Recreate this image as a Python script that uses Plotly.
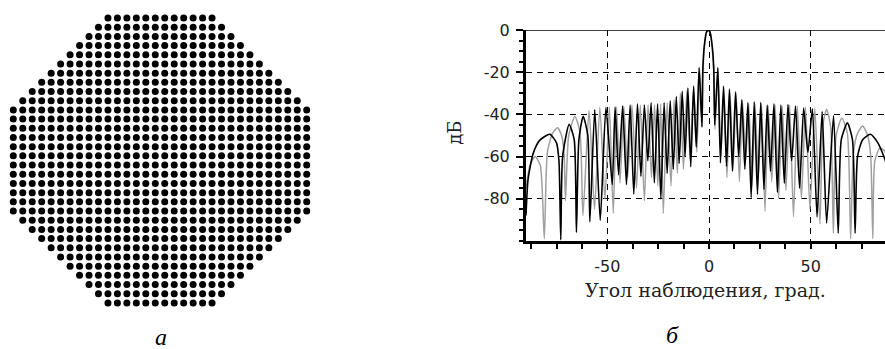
import plotly.graph_objects as go

W, H = 885, 349

# ---------------- panel "а": octagonal array (dots per row, top to bottom)
row_counts = [12, 14, 16, 18, 20, 22, 24, 26, 28, 30] + [32] * 12 + [30, 28, 26, 24, 22, 20, 18, 16, 14, 12]
grid_size = 32

# ---------------- panel "б": radiation pattern (angle, deg ; level, dB)
black_deg = [-90.0, -89.0, -86.5, -83.3, -78.3, -75.0, -73.8, -72.9,
             -72.0, -68.8, -66.3, -65.2,
             -64.0, -61.9, -59.6, -58.6,
             -56.2, -53.5, -50.7, -47.6, -46.2, -44.5, -42.5, -40.6,
             -38.8, -37.0, -35.2, -33.5, -31.8, -30.1, -28.5, -26.9,
             -25.3, -23.7, -22.1, -20.6, -19.1, -17.6, -16.1, -14.7,
             -13.2, -11.8, -10.4, -9.0, -7.6, -6.3, -4.9, -3.5,
             -3.1, -2.4, -1.3, -0.4, 0.5, 1.6, 2.3, 2.8,
             4.3, 5.6, 7.1, 8.6, 10.0, 11.5, 13.0, 14.6,
             16.1, 17.6, 19.1, 20.7, 22.2, 23.8, 25.4, 27.0,
             28.6, 30.2, 31.9, 33.6, 35.3, 37.0, 38.8, 40.6,
             42.5, 44.5, 46.5, 48.6, 50.8, 53.1, 55.6, 57.8,
             61.2, 63.5, 65.0, 68.0, 70.5, 71.8,
             73.0, 75.5, 79.3, 83.0, 86.6, 88.5, 90.0]
black_db = [-88.0, -71.0, -58.6, -52.3, -49.4, -53.5, -62.0, -99.5,
            -60.0, -44.7, -52.0, -96.0,
            -52.0, -40.9, -50.0, -91.0,
            -37.8, -90.3, -36.7, -73.3, -36.5, -68.7, -36.0, -73.3,
            -35.5, -77.9, -35.0, -69.4, -35.5, -62.0, -34.5, -72.5,
            -35.0, -80.2, -34.5, -68.0, -33.5, -66.0, -31.5, -63.3,
            -29.0, -60.0, -27.5, -64.8, -26.5, -55.5, -17.7, -46.0,
            -20.0, -8.0, -1.0, 0.0, -1.0, -8.0, -18.0, -45.0,
            -17.7, -63.0, -26.5, -64.6, -28.0, -67.0, -29.3, -60.0,
            -33.0, -66.0, -34.4, -79.5, -34.0, -78.0, -34.3, -75.6,
            -35.5, -67.0, -35.0, -77.0, -35.5, -72.7, -35.3, -62.0,
            -36.0, -75.0, -37.0, -58.0, -37.3, -88.6, -38.6, -91.6,
            -40.6, -96.4, -52.0, -44.0, -52.0, -96.4,
            -60.0, -52.0, -49.4, -53.5, -61.7, -70.0, -85.0]

gray_deg = [-90.0, -88.0, -85.5, -83.0, -81.0,
            -79.5, -77.0, -74.5, -72.5, -71.3, -70.6,
            -69.0, -66.0, -63.5, -62.0,
            -59.0, -56.3, -53.7, -51.2, -49.0, -47.1, -45.5, -43.8,
            -41.9, -40.0, -37.9, -35.7, -33.8, -31.8, -30.0, -28.3,
            -26.8, -25.2, -23.8, -22.5, -20.6, -18.7, -17.2, -15.6,
            -14.1, -12.6, -10.9, -9.2, -7.6, -6.0, -4.6, -3.4,
            -3.0, -2.3, -1.2, -0.4, 0.5, 1.5, 2.2, 2.9,
            4.4, 5.8, 7.3, 8.8, 10.3, 11.8, 13.3, 14.9,
            16.4, 18.0, 19.5, 21.1, 22.6, 24.2, 25.8, 27.5,
            29.1, 30.8, 32.5, 34.2, 36.0, 37.8, 39.6, 41.5,
            43.4, 45.4, 47.4, 49.6, 52.0, 54.5,
            56.0, 57.8, 59.8, 61.1,
            62.5, 65.3, 68.0, 69.6,
            71.0, 73.0, 75.5, 78.0, 79.5, 80.5,
            81.5, 84.0, 86.0, 88.0, 90.0]
gray_db = [-75.0, -64.0, -60.0, -64.0, -99.0,
           -58.0, -49.0, -46.3, -50.0, -58.0, -81.0,
           -50.0, -41.0, -48.0, -88.0,
           -38.0, -85.0, -36.5, -80.0, -36.5, -87.0, -36.5, -72.5,
           -36.0, -70.0, -35.5, -75.0, -35.5, -81.0, -35.5, -70.0,
           -35.5, -74.0, -35.0, -87.0, -34.5, -74.0, -33.0, -68.0,
           -30.0, -66.0, -28.5, -62.0, -27.5, -58.0, -18.5, -46.0,
           -20.0, -8.0, -1.0, 0.0, -1.0, -8.0, -18.0, -47.0,
           -18.5, -60.0, -27.5, -70.0, -29.0, -66.0, -30.0, -72.0,
           -33.5, -62.0, -35.0, -74.0, -35.0, -70.0, -35.0, -86.0,
           -36.0, -72.0, -35.5, -80.0, -36.0, -76.0, -35.5, -88.6,
           -36.0, -80.0, -36.5, -85.0, -37.0, -92.0,
           -45.0, -37.5, -46.0, -96.4,
           -50.0, -41.7, -49.0, -99.0,
           -58.0, -49.0, -45.5, -50.0, -60.0, -99.0,
           -62.0, -56.0, -57.0, -62.0, -75.0]

y_ticks = [0, -20, -40, -60, -80]
y_tick_text = ["0", "-20", "-40", "-60", "-80"]
x_ticks = [-50, 0, 50]
x_tick_text = ["-50", "0", "50"]

# dot positions built from the row counts
dot_x, dot_y = [], []
for r, c in enumerate(row_counts):
    start = (grid_size - c) // 2
    for j in range(c):
        dot_x.append(start + j)
        dot_y.append(r)

fig = go.Figure()
fig.add_trace(go.Scatter(x=dot_x, y=dot_y, mode="markers",
                         marker=dict(size=7, color="black", line=dict(width=0)),
                         xaxis="x", yaxis="y", hoverinfo="skip", showlegend=False))
fig.add_trace(go.Scatter(x=gray_deg, y=gray_db, mode="lines",
                         line=dict(color="#a0a0a0", width=1.5, shape="spline", smoothing=0.6),
                         xaxis="x2", yaxis="y2", hoverinfo="skip", showlegend=False))
fig.add_trace(go.Scatter(x=black_deg, y=black_db, mode="lines",
                         line=dict(color="black", width=1.6, shape="spline", smoothing=0.6),
                         xaxis="x2", yaxis="y2", hoverinfo="skip", showlegend=False))

tick_font = dict(family="DejaVu Sans", size=16, color="#222")
serif = "DejaVu Serif"

fig.update_layout(
    width=W, height=H,
    margin=dict(l=0, r=0, t=0, b=0),
    paper_bgcolor="white", plot_bgcolor="white",
    showlegend=False,
    xaxis=dict(domain=[0, 320 / W], range=[-1.405, 32.404], visible=False, fixedrange=True),
    yaxis=dict(domain=[0, 1], range=[36.02, -0.986], visible=False, fixedrange=True),
    xaxis2=dict(domain=[526 / W, 1], range=[-90, 86.5], anchor="y2",
                showline=True, linewidth=3, linecolor="black", mirror=False,
                zeroline=False,
                tickmode="array", tickvals=x_ticks, ticktext=x_tick_text,
                ticks="outside", ticklen=5,
                tickwidth=1.5, tickcolor="black", tickfont=tick_font,
                ticklabelstandoff=4,
                showgrid=True, gridcolor="black", gridwidth=1, griddash="6px,5px",
                minor=dict(tickmode="linear", tick0=0, dtick=12.5, ticks="outside",
                           ticklen=5, tickwidth=1.5, tickcolor="black", showgrid=False)),
    yaxis2=dict(domain=[1 - 238 / H, 1 - 21.7 / H], range=[-100, 0], anchor="x2",
                showline=True, linewidth=3, linecolor="black", mirror=False,
                zeroline=False,
                tickmode="array", tickvals=y_ticks, ticktext=y_tick_text,
                ticks="outside", ticklen=7,
                tickwidth=1.5, tickcolor="black", tickfont=tick_font,
                ticklabelstandoff=3,
                showgrid=True, gridcolor="black", gridwidth=1, griddash="6px,5px",
                minor=dict(tickmode="linear", tick0=0, dtick=5, ticks="outside",
                           ticklen=4, tickwidth=1.5, tickcolor="black", showgrid=False)),
    shapes=[dict(type="line", xref="x2 domain", yref="y2", x0=0, x1=1, y0=0, y1=0,
                 line=dict(color="black", width=1.5), layer="above")],
    annotations=[
        dict(text="дБ", x=455 / W, y=1 - 127 / H, xref="paper", yref="paper",
             textangle=-90, showarrow=False, xanchor="center", yanchor="middle",
             font=dict(family=serif, size=18, color="#222")),
        dict(text="Угол наблюдения, град.", x=705 / W, y=1 - 288 / H, xref="paper", yref="paper",
             showarrow=False, xanchor="center", yanchor="middle",
             font=dict(family=serif, size=19, color="#222")),
        dict(text="<i>а</i>", x=161 / W, y=1 - 337 / H, xref="paper", yref="paper",
             showarrow=False, xanchor="center", yanchor="middle",
             font=dict(family="Liberation Serif", size=24, color="black")),
        dict(text="<i>б</i>", x=672 / W, y=1 - 335 / H, xref="paper", yref="paper",
             showarrow=False, xanchor="center", yanchor="middle",
             font=dict(family="Liberation Serif", size=24, color="black")),
    ],
)

fig.write_html("out.html", config={"displayModeBar": False})
